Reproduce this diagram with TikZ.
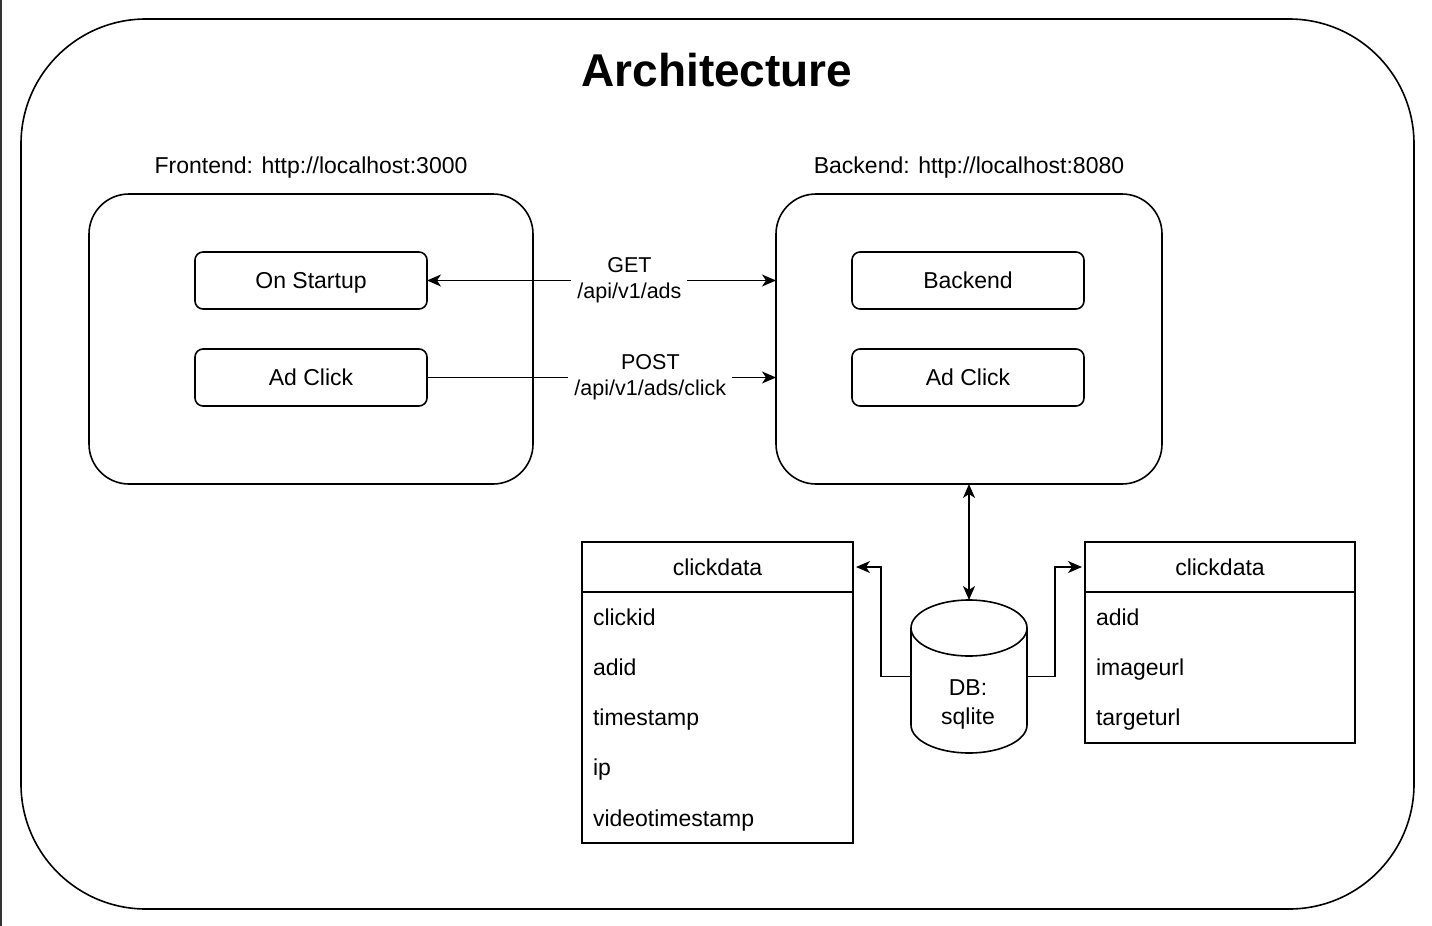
\documentclass[tikz,border=0pt]{standalone}
\usepackage{fontspec}
\setmainfont{Liberation Sans}
\usetikzlibrary{arrows.meta}
\tikzset{
  x=1pt, y=-1pt,
  every node/.style={inner sep=0pt, outer sep=0pt, font=\fontsize{23}{27}\selectfont, text height=20pt, text depth=4pt},
  ln/.style={line width=1.6pt, draw=black},
  rbox/.style={ln, rounded corners=8pt},
  bigbox/.style={ln, rounded corners=40pt},
  tbox/.style={ln},
  lbl/.style={fill=white, align=center, inner xsep=6pt, inner ysep=1pt, text height=, text depth=, font=\fontsize{21.5}{26}\selectfont},
  tip/.style={-{Stealth[length=14pt,width=12pt,inset=4pt]}},
  tip2/.style={{Stealth[length=14pt,width=12pt,inset=4pt]}-{Stealth[length=14pt,width=12pt,inset=4pt]}},
  row/.style={anchor=west},
  empty/.style={text height=0pt, text depth=0pt},
}
\begin{document}
\begin{tikzpicture}
\useasboundingbox (0,0) rectangle (1432,926);
% screenshot edge
\draw[line width=2pt, black!80] (1,0) -- (1,926);
% outer frame
\node[ln, empty, rounded corners=125pt, minimum width=1393pt, minimum height=890pt] (outer) at (717.5,464) {};
\node[font=\bfseries\fontsize{46}{52}\selectfont, text height=33pt, text depth=0pt] (title) at (717,70) {Architecture};
% frontend / backend containers
\node (felbl) at (311,165) {Frontend: http://localhost:3000};
\node (belbl) at (969,165) {Backend: http://localhost:8080};
\node[bigbox, empty, minimum width=444pt, minimum height=290pt] (fe) at (311,339) {};
\node[bigbox, empty, minimum width=386pt, minimum height=290pt] (be) at (969,339) {};
\node[rbox, minimum width=232pt, minimum height=57pt] (os) at (311,280.5) {On Startup};
\node[rbox, minimum width=232pt, minimum height=57pt] (ac1) at (311,377.5) {Ad Click};
\node[rbox, minimum width=232pt, minimum height=57pt] (bk) at (968,280.5) {Backend};
\node[rbox, minimum width=232pt, minimum height=57pt] (ac2) at (968,377.5) {Ad Click};
% connectors between containers
\draw[ln, tip2] (os.east) -- node[lbl, pos=0.58] (getl) {GET\\/api/v1/ads} (os.east -| be.west);
\draw[ln, tip] (ac1.east) -- node[lbl, pos=0.64] (postl) {POST\\/api/v1/ads/click} (ac1.east -| be.west);
% database
\node[empty, minimum width=116pt, minimum height=153pt] (db) at (969,676.5) {};
\draw[ln] (911,628) -- (911,725) arc[start angle=180, end angle=360, x radius=58pt, y radius=28pt] -- (1027,628);
\draw[ln, fill=white] (969,628) ellipse [x radius=58pt, y radius=28pt];
\node[align=center, text height=, text depth=, font=\fontsize{23}{29}\selectfont] (dbl) at (968,704) {DB:\\sqlite};
\draw[ln, tip2] (be.south) -- (db.north);
% left table
\node[tbox, empty, minimum width=271pt, minimum height=301pt] (t1) at (717.5,692.5) {};
\node[tbox, minimum width=271pt, minimum height=50pt] (h1) at (717.5,567) {clickdata};
\node[row] (r11) at (593,617) {clickid};
\node[row] (r12) at (593,667) {adid};
\node[row] (r13) at (593,717) {timestamp};
\node[row] (r14) at (593,767) {ip};
\node[row] (r15) at (593,818) {videotimestamp};
% right table
\node[tbox, empty, minimum width=270pt, minimum height=201pt] (t2) at (1220,642.5) {};
\node[tbox, minimum width=270pt, minimum height=50pt] (h2) at (1220,567) {clickdata};
\node[row] (r21) at (1096,617) {adid};
\node[row] (r22) at (1096,667) {imageurl};
\node[row] (r23) at (1096,717) {targeturl};
% db to tables
\draw[ln, tip, shorten >=3pt] (db.west) -- ++(-30,0) |- (h1.east);
\draw[ln, tip, shorten >=3pt] (db.east) -- ++(28,0) |- (h2.west);
\end{tikzpicture}
\end{document}
